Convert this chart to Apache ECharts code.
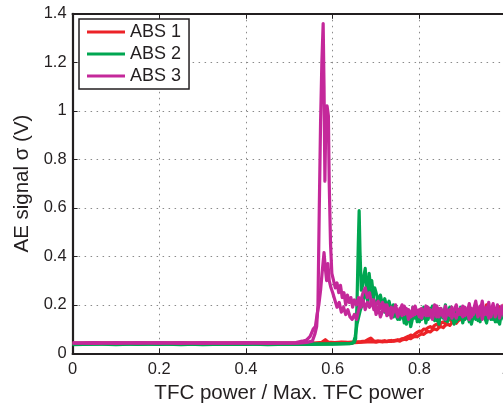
<!DOCTYPE html>
<html>
<head>
<meta charset="utf-8">
<script src="https://cdn.jsdelivr.net/npm/echarts@6/dist/echarts.min.js"></script>
<style>
  html, body { margin: 0; padding: 0; background: #fff; }
  #chart { width: 503px; height: 406px; }
</style>
</head>
<body>
<div id="chart"></div>
<script>
// Acoustic emission signal vs. normalised TFC power for three sliders (two sweeps each)
const seriesNames = ['ABS 1', 'ABS 2', 'ABS 3'];
const seriesColors = ['#ec2227', '#00a651', '#c4289a'];
const xTicks = [0, 0.2, 0.4, 0.6, 0.8, 1];
const yTicks = [0, 0.2, 0.4, 0.6, 0.8, 1, 1.2, 1.4];

// Shared power grid for the high-power tail of every sweep
const tailX = [
  0.700,0.705,0.710,0.715,0.720,0.725,0.730,0.735,0.740,0.745,
  0.750,0.755,0.760,0.765,0.770,0.775,0.780,0.785,0.790,0.795,
  0.800,0.805,0.810,0.815,0.820,0.825,0.830,0.835,0.840,0.845,
  0.850,0.855,0.860,0.865,0.870,0.875,0.880,0.885,0.890,0.895,
  0.900,0.905,0.910,0.915,0.920,0.925,0.930,0.935,0.940,0.945,
  0.950,0.955,0.960,0.965,0.970,0.975,0.980,0.985,0.990,0.995,
  1.000
];

// ABS 1 — sweep a
const abs1aHead = [[0,0.041],[0.05,0.043],[0.1,0.040],[0.15,0.043],[0.2,0.041],[0.25,0.043],[0.3,0.040],[0.35,0.042],[0.4,0.041],[0.45,0.043],[0.5,0.041],[0.54,0.043],[0.56,0.042],[0.575,0.045],[0.583,0.056],[0.59,0.046],[0.605,0.044],[0.62,0.046],[0.635,0.044],[0.65,0.047],[0.665,0.048],[0.675,0.050],[0.683,0.058],[0.688,0.063],[0.694,0.052]];
const abs1aTail = [
  0.049,0.051,0.048,0.050,0.052,0.049,0.051,0.053,0.050,0.054,
  0.056,0.055,0.060,0.062,0.066,0.070,0.075,0.072,0.080,0.086,
  0.092,0.090,0.100,0.098,0.106,0.110,0.105,0.115,0.120,0.112,
  0.125,0.130,0.122,0.135,0.140,0.132,0.145,0.150,0.140,0.155,
  0.148,0.160,0.152,0.165,0.158,0.170,0.160,0.175,0.165,0.180,
  0.170,0.200,0.168,0.178,0.170,0.185,0.175,0.190,0.172,0.200,
  0.180
];
// ABS 1 — sweep b
const abs1bHead = [[0,0.039],[0.05,0.041],[0.1,0.043],[0.15,0.040],[0.2,0.042],[0.25,0.040],[0.3,0.043],[0.35,0.041],[0.4,0.043],[0.45,0.040],[0.5,0.042],[0.55,0.041],[0.6,0.043],[0.63,0.045],[0.65,0.044],[0.67,0.046],[0.69,0.048]];
const abs1bTail = [
  0.046,0.048,0.050,0.047,0.049,0.048,0.050,0.049,0.052,0.051,
  0.053,0.050,0.055,0.058,0.056,0.062,0.060,0.066,0.070,0.068,
  0.075,0.080,0.078,0.086,0.090,0.088,0.096,0.100,0.097,0.106,
  0.110,0.106,0.116,0.120,0.115,0.126,0.130,0.124,0.135,0.140,
  0.136,0.145,0.150,0.142,0.155,0.150,0.160,0.155,0.165,0.158,
  0.168,0.162,0.172,0.166,0.176,0.170,0.180,0.174,0.185,0.178,
  0.182
];

// ABS 2 — sweep a (sharp peak)
const abs2aHead = [[0,0.037],[0.05,0.039],[0.1,0.036],[0.15,0.039],[0.2,0.037],[0.25,0.039],[0.3,0.036],[0.35,0.038],[0.4,0.037],[0.45,0.039],[0.5,0.037],[0.55,0.039],[0.6,0.038],[0.63,0.040],[0.645,0.041],[0.65,0.045],[0.653,0.060],[0.656,0.200],[0.659,0.450],[0.661,0.588],[0.663,0.420],[0.666,0.260],[0.669,0.280],[0.672,0.320],[0.675,0.350],[0.678,0.270],[0.681,0.210],[0.684,0.330],[0.687,0.280],[0.690,0.300],[0.694,0.240],[0.697,0.270]];
const abs2aTail = [
  0.250,0.215,0.240,0.200,0.225,0.190,0.215,0.175,0.200,0.160,
  0.140,0.175,0.150,0.190,0.120,0.165,0.110,0.150,0.185,0.130,
  0.170,0.140,0.190,0.125,0.175,0.150,0.195,0.135,0.165,0.120,
  0.180,0.145,0.200,0.130,0.170,0.155,0.120,0.175,0.140,0.190,
  0.125,0.165,0.145,0.185,0.120,0.160,0.140,0.175,0.130,0.190,
  0.150,0.125,0.170,0.140,0.185,0.130,0.160,0.120,0.175,0.140,
  0.160
];
// ABS 2 — sweep b
const abs2bHead = [[0,0.036],[0.05,0.038],[0.1,0.040],[0.15,0.037],[0.2,0.039],[0.25,0.036],[0.3,0.039],[0.35,0.037],[0.4,0.039],[0.45,0.036],[0.5,0.038],[0.55,0.037],[0.6,0.039],[0.64,0.040],[0.648,0.045],[0.652,0.070],[0.656,0.120],[0.660,0.150],[0.664,0.180],[0.668,0.200],[0.672,0.230],[0.676,0.260],[0.680,0.220],[0.684,0.280],[0.688,0.240],[0.692,0.260],[0.696,0.210]];
const abs2bTail = [
  0.200,0.230,0.185,0.210,0.170,0.195,0.160,0.185,0.150,0.175,
  0.165,0.140,0.180,0.125,0.160,0.175,0.135,0.190,0.145,0.170,
  0.130,0.160,0.145,0.175,0.140,0.185,0.150,0.170,0.135,0.160,
  0.150,0.175,0.135,0.165,0.190,0.140,0.170,0.130,0.160,0.145,
  0.175,0.140,0.165,0.130,0.170,0.150,0.180,0.135,0.165,0.145,
  0.170,0.135,0.160,0.180,0.140,0.165,0.130,0.175,0.150,0.165,
  0.145
];

// ABS 3 — sweep a (tall double spike)
const abs3aHead = [[0,0.042],[0.05,0.044],[0.1,0.041],[0.15,0.044],[0.2,0.042],[0.25,0.044],[0.3,0.041],[0.35,0.043],[0.4,0.042],[0.45,0.044],[0.5,0.042],[0.52,0.042],[0.54,0.045],[0.553,0.050],[0.559,0.080],[0.563,0.110],[0.566,0.200],[0.569,0.590],[0.572,0.950],[0.575,1.200],[0.578,1.360],[0.580,1.100],[0.582,0.710],[0.584,0.950],[0.587,1.020],[0.590,0.980],[0.592,0.700],[0.595,0.450],[0.598,0.330],[0.602,0.300],[0.606,0.270],[0.610,0.290],[0.614,0.250],[0.618,0.280],[0.622,0.230],[0.626,0.250],[0.630,0.200],[0.634,0.240],[0.638,0.210],[0.642,0.230],[0.646,0.190],[0.650,0.220],[0.655,0.200],[0.660,0.230],[0.665,0.190],[0.670,0.220],[0.675,0.180],[0.680,0.210],[0.685,0.190],[0.690,0.220],[0.695,0.180]];
const abs3aTail = [
  0.200,0.215,0.185,0.210,0.175,0.200,0.165,0.190,0.170,0.200,
  0.160,0.185,0.155,0.195,0.165,0.180,0.150,0.190,0.160,0.175,
  0.150,0.185,0.165,0.195,0.155,0.180,0.165,0.200,0.150,0.185,
  0.170,0.150,0.195,0.160,0.180,0.145,0.175,0.200,0.160,0.185,
  0.150,0.190,0.165,0.205,0.150,0.180,0.215,0.160,0.195,0.140,
  0.185,0.160,0.210,0.150,0.190,0.165,0.200,0.145,0.185,0.170,
  0.195
];
// ABS 3 — sweep b
const abs3bHead = [[0,0.043],[0.05,0.041],[0.1,0.044],[0.15,0.042],[0.2,0.044],[0.25,0.041],[0.3,0.044],[0.35,0.042],[0.4,0.044],[0.45,0.041],[0.5,0.043],[0.515,0.044],[0.53,0.050],[0.54,0.055],[0.548,0.070],[0.555,0.100],[0.56,0.110],[0.564,0.160],[0.568,0.200],[0.572,0.260],[0.576,0.340],[0.580,0.415],[0.583,0.350],[0.586,0.300],[0.589,0.370],[0.592,0.300],[0.596,0.270],[0.600,0.250],[0.605,0.220],[0.610,0.190],[0.615,0.210],[0.620,0.170],[0.625,0.190],[0.630,0.160],[0.635,0.180],[0.640,0.150],[0.645,0.140],[0.650,0.160],[0.655,0.140],[0.660,0.180],[0.665,0.220],[0.670,0.250],[0.675,0.270],[0.680,0.230],[0.685,0.250],[0.690,0.200],[0.695,0.220]];
const abs3bTail = [
  0.160,0.190,0.150,0.175,0.200,0.155,0.185,0.145,0.170,0.190,
  0.150,0.175,0.200,0.160,0.185,0.140,0.170,0.155,0.195,0.165,
  0.180,0.145,0.170,0.155,0.190,0.160,0.140,0.175,0.195,0.150,
  0.185,0.160,0.140,0.175,0.155,0.190,0.165,0.145,0.180,0.160,
  0.195,0.155,0.175,0.140,0.185,0.160,0.200,0.150,0.170,0.215,
  0.160,0.190,0.145,0.175,0.205,0.150,0.185,0.165,0.195,0.155,
  0.180
];

function sweep(head, tail) {
  return head.concat(tailX.map((x, i) => [x, tail[i]]));
}

const sweeps = [
  { k: 0, data: sweep(abs1aHead, abs1aTail) },
  { k: 0, data: sweep(abs1bHead, abs1bTail) },
  { k: 1, data: sweep(abs2aHead, abs2aTail) },
  { k: 1, data: sweep(abs2bHead, abs2bTail) },
  { k: 2, data: sweep(abs3aHead, abs3aTail) },
  { k: 2, data: sweep(abs3bHead, abs3bTail) }
];

const FONT = 'Liberation Sans, Arial, sans-serif';
const chart = echarts.init(document.getElementById('chart'), null, { renderer: 'canvas' });

const axisLine = { show: true, lineStyle: { color: '#231f20', width: 2.2 } };
const tick = { show: true, inside: true, length: 5, lineStyle: { color: '#231f20', width: 1 } };
const splitDotted = { show: true, lineStyle: { color: '#8a8a8a', type: [1.5, 4.5], width: 1 } };
const pick = list => v => list.includes(+v.toFixed(1)) ? String(+v.toFixed(1)) : '';

chart.setOption({
  animation: false,
  backgroundColor: '#ffffff',
  grid: { left: 72.6, top: 13.8, width: 433.5, height: 339.5, containLabel: false, outerBoundsMode: 'none' },
  legend: {
    data: seriesNames,
    orient: 'vertical',
    left: 79,
    top: 19,
    padding: [3, 8, 3, 8],
    itemGap: 2,
    itemWidth: 38,
    itemHeight: 3,
    icon: 'rect',
    backgroundColor: '#ffffff',
    borderColor: '#231f20',
    borderWidth: 1.5,
    textStyle: { fontFamily: FONT, fontSize: 18, color: '#231f20', lineHeight: 20 }
  },
  xAxis: [{
    type: 'value', min: 0, max: 1, interval: 0.2,
    name: 'TFC power / Max. TFC power',
    nameLocation: 'middle', nameGap: 27,
    nameTextStyle: { fontFamily: FONT, fontSize: 20.5, color: '#231f20' },
    axisLine: axisLine,
    axisTick: tick,
    axisLabel: { fontFamily: FONT, fontSize: 16.5, color: '#231f20', margin: 8, formatter: pick(xTicks) },
    splitLine: splitDotted
  }, {
    type: 'value', min: 0, max: 1, interval: 0.2, position: 'top',
    axisLine: axisLine,
    axisTick: tick,
    axisLabel: { show: false },
    splitLine: { show: false }
  }],
  yAxis: {
    type: 'value', min: 0, max: 1.4, interval: 0.2,
    name: 'AE signal \u03c3 (V)',
    nameLocation: 'middle', nameGap: 40, nameRotate: 90,
    nameTextStyle: { fontFamily: FONT, fontSize: 20.5, color: '#231f20' },
    axisLine: axisLine,
    axisTick: tick,
    axisLabel: { fontFamily: FONT, fontSize: 16.5, color: '#231f20', margin: 6, formatter: pick(yTicks) },
    splitLine: splitDotted
  },
  series: sweeps.map(s => ({
    type: 'line',
    name: seriesNames[s.k],
    data: s.data,
    xAxisIndex: 0,
    showSymbol: false,
    symbol: 'none',
    color: seriesColors[s.k],
    lineStyle: { color: seriesColors[s.k], width: 3.2, join: 'round' },
    clip: true
  }))
});
</script>
</body>
</html>
